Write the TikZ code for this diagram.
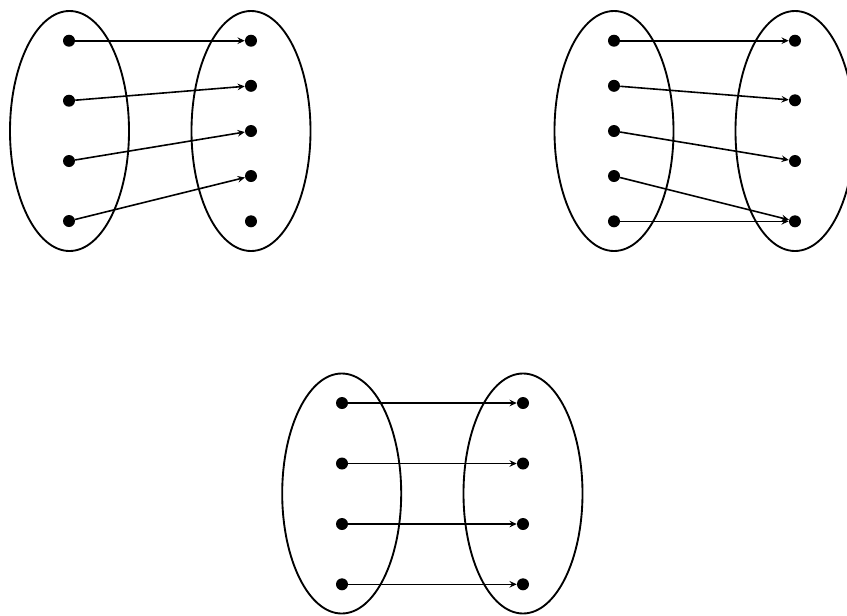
\documentclass[tikz,border=0pt]{standalone}
\usetikzlibrary{arrows.meta}
\begin{document}
\begin{tikzpicture}[x=0.75pt,y=-0.75pt,
  setel/.style={draw=black,line width=1.4pt},
  dot/.style={circle,fill=black,inner sep=0pt,minimum size=9pt},
  mapar/.style={draw=black,line width=1.2pt,-{Stealth[length=5.5pt,width=5pt,inset=2pt]}}]
\useasboundingbox (0,0) rectangle (847,615);
% top-left
\draw[setel] (69.5,131) ellipse [x radius=59.5, y radius=120];
\draw[setel] (251,131) ellipse [x radius=59.5, y radius=120];
\node[dot] (a1) at (69,40.7) {};
\node[dot] (a2) at (69,100.7) {};
\node[dot] (a3) at (69,161) {};
\node[dot] (a4) at (69,221) {};
\node[dot] (b1) at (251,40.7) {};
\node[dot] (b2) at (251,85.8) {};
\node[dot] (b3) at (251,131) {};
\node[dot] (b4) at (251,176) {};
\node[dot] (b5) at (251,221.3) {};
\draw[mapar] (a1) -- (b1);
\draw[mapar] (a2) -- (b2);
\draw[mapar] (a3) -- (b3);
\draw[mapar] (a4) -- (b4);
% top-right
\draw[setel] (614,131) ellipse [x radius=59.5, y radius=120];
\draw[setel] (795,131) ellipse [x radius=59.5, y radius=120];
\node[dot] (c1) at (614,40.7) {};
\node[dot] (c2) at (614,85.8) {};
\node[dot] (c3) at (614,131) {};
\node[dot] (c4) at (614,176) {};
\node[dot] (c5) at (614,221.3) {};
\node[dot] (d1) at (795,40.7) {};
\node[dot] (d2) at (795,100.3) {};
\node[dot] (d3) at (795,161) {};
\node[dot] (d4) at (795,221.3) {};
\draw[mapar] (c1) -- (d1);
\draw[mapar] (c2) -- (d2);
\draw[mapar] (c3) -- (d3);
\draw[mapar] (c4) -- (d4);
\draw[mapar] (c5) -- (d4);
% bottom
\draw[setel] (341.7,493.5) ellipse [x radius=59.5, y radius=120];
\draw[setel] (523,493.5) ellipse [x radius=59.5, y radius=120];
\node[dot] (e1) at (342,403) {};
\node[dot] (e2) at (342,463.5) {};
\node[dot] (e3) at (342,524) {};
\node[dot] (e4) at (342,584.3) {};
\node[dot] (f1) at (523,403) {};
\node[dot] (f2) at (523,463.5) {};
\node[dot] (f3) at (523,524) {};
\node[dot] (f4) at (523,584.3) {};
\draw[mapar] (e1) -- (f1);
\draw[mapar] (e2) -- (f2);
\draw[mapar] (e3) -- (f3);
\draw[mapar] (e4) -- (f4);
\end{tikzpicture}
\end{document}
